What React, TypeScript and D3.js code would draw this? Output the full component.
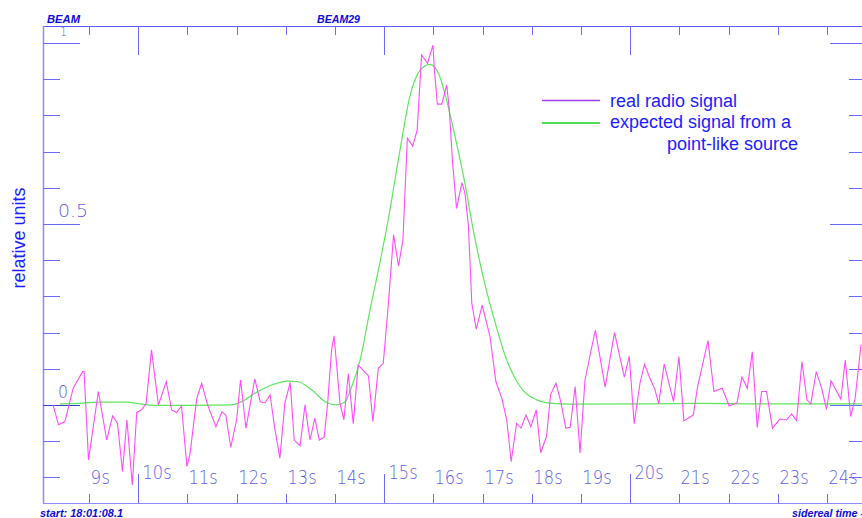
import React, { useEffect, useRef } from 'react';
import * as d3 from 'd3';

// measured radio signal: [seconds after 18:01, relative units]
const radioSignal: [number, number][] = [
  [8.27, 0.0], [8.38, -0.055], [8.51, -0.046], [8.68, 0.047], [8.87, 0.092], [8.9, 0.092],
  [8.99, -0.152], [9.19, 0.037], [9.36, -0.097], [9.48, -0.03], [9.58, -0.051], [9.68, -0.184],
  [9.77, -0.041], [9.88, -0.221], [9.97, -0.021], [10.06, -0.014], [10.16, 0.003], [10.27, 0.152],
  [10.41, 0.0], [10.57, 0.064], [10.68, -0.014], [10.78, -0.021], [10.88, -0.003], [10.99, -0.17],
  [11.05, -0.138], [11.19, 0.018], [11.29, 0.06], [11.41, 0.0], [11.58, -0.06], [11.7, -0.019],
  [11.78, -0.028], [11.88, -0.117], [12.0, -0.041], [12.08, 0.069], [12.19, -0.064], [12.37, 0.072],
  [12.48, 0.009], [12.58, 0.006], [12.68, 0.028], [12.77, -0.06], [12.88, -0.147], [12.98, 0.005],
  [13.09, 0.062], [13.17, -0.097], [13.29, -0.113], [13.39, 0.0], [13.49, -0.097], [13.59, -0.037],
  [13.68, -0.097], [13.78, -0.089], [13.85, 0.005], [13.93, 0.152], [13.98, 0.191], [14.03, 0.115],
  [14.1, 0.005], [14.18, -0.041], [14.27, 0.086], [14.37, -0.052], [14.47, 0.11], [14.68, 0.08],
  [14.77, -0.046], [14.88, 0.101], [14.98, 0.115], [15.08, 0.272], [15.19, 0.47], [15.29, 0.384],
  [15.38, 0.456], [15.47, 0.737], [15.58, 0.715], [15.67, 0.76], [15.76, 0.967], [15.88, 0.944],
  [15.99, 0.994], [16.02, 0.925], [16.08, 0.831], [16.17, 0.831], [16.27, 0.884], [16.32, 0.82],
  [16.39, 0.668], [16.47, 0.543], [16.58, 0.614], [16.64, 0.585], [16.71, 0.497], [16.78, 0.281],
  [16.87, 0.209], [16.99, 0.276], [17.15, 0.189], [17.27, 0.064], [17.39, 0.018], [17.49, -0.041],
  [17.58, -0.157], [17.69, -0.051], [17.78, -0.064], [17.88, -0.028], [17.98, -0.06], [18.09, -0.014],
  [18.18, -0.132], [18.3, -0.086], [18.38, 0.028], [18.49, 0.06], [18.59, 0.008], [18.69, -0.064],
  [18.78, -0.062], [18.88, 0.051], [18.98, -0.133], [19.08, 0.069], [19.29, 0.207], [19.49, 0.049],
  [19.68, 0.2], [19.88, 0.077], [19.98, 0.135], [20.08, -0.052], [20.2, 0.062], [20.29, 0.112],
  [20.39, 0.077], [20.5, 0.043], [20.58, 0.003], [20.69, 0.113], [20.88, 0.009], [20.99, 0.133],
  [21.09, -0.044], [21.28, -0.028], [21.37, 0.051], [21.58, 0.178], [21.7, 0.037], [21.87, 0.046],
  [22.01, -0.003], [22.17, 0.006], [22.27, 0.077], [22.38, 0.046], [22.48, 0.147], [22.58, -0.062],
  [22.67, 0.037], [22.77, 0.037], [22.89, -0.064], [23.04, -0.039], [23.18, -0.041], [23.28, -0.025],
  [23.38, -0.043], [23.49, 0.12], [23.59, 0.014], [23.67, 0.003], [23.78, 0.092], [23.89, 0.046],
  [23.99, -0.012], [24.08, 0.067], [24.18, 0.041], [24.28, 0.016], [24.37, 0.124], [24.48, -0.032],
  [24.57, 0.018], [24.69, 0.166],
];

// expected beam response of a point source
const expectedSignal: [number, number][] = [
  [8.41, 0.003], [8.88, 0.005], [9.16, 0.008], [9.77, 0.008], [10.04, 0.003], [10.31, -0.001],
  [11.05, -0.001], [11.9, 0.0], [12.1, 0.009], [12.37, 0.032], [12.71, 0.055], [13.05, 0.066],
  [13.25, 0.064], [13.53, 0.041], [13.8, 0.009], [14.04, 0.0], [14.2, 0.008], [14.34, 0.051],
  [14.51, 0.124], [14.71, 0.262], [14.91, 0.392], [15.08, 0.511], [15.32, 0.704], [15.52, 0.852],
  [15.73, 0.925], [15.93, 0.941], [16.13, 0.907], [16.3, 0.824], [16.47, 0.723], [16.64, 0.612],
  [16.81, 0.483], [17.01, 0.354], [17.22, 0.244], [17.49, 0.124], [17.76, 0.051], [18.1, 0.014],
  [18.37, 0.005], [18.78, 0.002], [20.4, 0.003], [21.42, 0.004], [22.44, 0.003], [24.71, 0.003],
];

const xTickSeconds = [9, 10, 11, 12, 13, 14, 15, 16, 17, 18, 19, 20, 21, 22, 23, 24];
const xMajorSeconds = [10, 15, 20];
const yTickValues = [-0.2, -0.1, 0, 0.1, 0.2, 0.3, 0.4, 0.5, 0.6, 0.7, 0.8, 0.9, 1];
const yMajorValues = [0, 0.5, 1];
const yTickLabels = ['0', '0.5', '1'];
const legendLabels = ['real radio signal', 'expected signal from a', 'point-like source'];

const W = 862;
const H = 518;

const App: React.FC = () => {
  const svgRef = useRef<SVGSVGElement>(null);

  useEffect(() => {
    if (!svgRef.current) return;
    const svg = d3.select(svgRef.current);
    svg.selectAll('*').remove();

    const left = 43, right = 862, top = 26, bottom = 503;

    const x = d3.scaleLinear().domain([8.065, 24.71]).range([left, right]);
    const y = d3.scaleLinear().domain([-0.271, 1.047]).range([bottom, top]);

    const axisColor = '#6a6aff';
    const lightAxis = '#8c8cff';
    const labelColor = '#5e5ee6';
    const darkBlue = '#0c0cd8';

    svg.append('rect').attr('width', W).attr('height', H).attr('fill', '#fff');

    svg.append('clipPath').attr('id', 'plot-clip')
      .append('rect')
      .attr('x', left).attr('y', top)
      .attr('width', right - left).attr('height', bottom - top);

    // frame
    svg.append('line').attr('x1', left).attr('x2', right).attr('y1', top + 0.5).attr('y2', top + 0.5)
      .attr('stroke', '#5a5aff').attr('stroke-width', 1.2);
    svg.append('line').attr('x1', left).attr('x2', right).attr('y1', bottom + 0.5).attr('y2', bottom + 0.5)
      .attr('stroke', lightAxis).attr('stroke-width', 1.2);
    svg.append('line').attr('x1', left + 0.5).attr('x2', left + 0.5).attr('y1', top).attr('y2', bottom)
      .attr('stroke', lightAxis).attr('stroke-width', 1.5);

    // x ticks, top and bottom
    const xt = svg.append('g');
    xTickSeconds.forEach(s => {
      const major = xMajorSeconds.includes(s);
      const px = Math.round(x(s)) + 0.5;
      const len = major ? 29 : 9;
      xt.append('line').attr('x1', px).attr('x2', px).attr('y1', top).attr('y2', top + len)
        .attr('stroke', axisColor);
      xt.append('line').attr('x1', px).attr('x2', px).attr('y1', bottom).attr('y2', bottom - len)
        .attr('stroke', axisColor);
      const label = `${s}s`;
      xt.append('text')
        .attr('x', px + (major ? 4 : 1))
        .attr('y', major ? 479 : 484)
        .attr('textLength', label.length * 9.7)
        .attr('lengthAdjust', 'spacingAndGlyphs')
        .style('font-family', '"DejaVu Sans", sans-serif')
        .style('font-weight', 200)
        .style('font-size', '20px')
        .attr('fill', labelColor)
        .text(label);
    });

    // y ticks, left and right
    const yt = svg.append('g');
    yTickValues.forEach(v => {
      const major = yMajorValues.some(m => Math.abs(m - v) < 1e-6);
      const py = Math.round(y(v)) + 0.5;
      yt.append('line').attr('x1', left).attr('x2', left + (major ? 37 : 17)).attr('y1', py).attr('y2', py)
        .attr('stroke', Math.abs(v) < 1e-6 ? '#3a3ad0' : axisColor);
      yt.append('line').attr('x1', right).attr('x2', right - (major ? 32 : 13)).attr('y1', py).attr('y2', py)
        .attr('stroke', axisColor);
    });
    const yLabels = svg.append('g').attr('clip-path', 'url(#plot-clip)');
    yMajorValues.forEach((v, i) => {
      const label = yTickLabels[i];
      // the top label sits right under the frame, so it is drawn smaller
      const atTop = v === 1;
      yLabels.append('text')
        .attr('x', atTop ? 60 : 58)
        .attr('y', y(v) - 7)
        .attr('textLength', label.length * (atTop ? 7 : 10))
        .attr('lengthAdjust', 'spacingAndGlyphs')
        .style('font-family', '"DejaVu Sans", sans-serif')
        .style('font-weight', 200)
        .style('font-size', atTop ? '13px' : '18px')
        .attr('fill', labelColor)
        .text(label);
    });

    // data lines
    const plot = svg.append('g').attr('clip-path', 'url(#plot-clip)');

    const expectedLine = d3.line<[number, number]>()
      .x(d => x(d[0]))
      .y(d => y(d[1]))
      .curve(d3.curveMonotoneX);

    const radioLine = d3.line<[number, number]>()
      .x(d => x(d[0]))
      .y(d => y(d[1]));

    plot.append('path')
      .datum(expectedSignal)
      .attr('d', expectedLine)
      .attr('fill', 'none')
      .attr('stroke', '#5ee65e')
      .attr('stroke-width', 1.2);

    plot.append('path')
      .datum(radioSignal)
      .attr('d', radioLine)
      .attr('fill', 'none')
      .attr('stroke', '#ff4cff')
      .attr('stroke-width', 1.1)
      .attr('stroke-linejoin', 'miter');

    // legend
    const legend = svg.append('g');
    legend.append('line').attr('x1', 542).attr('x2', 600).attr('y1', 100.5).attr('y2', 100.5)
      .attr('stroke', '#a040ff').attr('stroke-width', 1.3);
    legend.append('line').attr('x1', 542).attr('x2', 600).attr('y1', 123).attr('y2', 123)
      .attr('stroke', '#55dd55').attr('stroke-width', 2);
    const legendPos = [[610, 107], [610, 128], [667, 150]];
    legendLabels.forEach((t, i) => {
      legend.append('text')
        .attr('x', legendPos[i][0])
        .attr('y', legendPos[i][1])
        .style('font-family', '"Liberation Sans", Arial, sans-serif')
        .style('font-size', '18px')
        .attr('fill', '#1c1cff')
        .text(t);
    });

    // y axis title
    svg.append('text')
      .attr('transform', `translate(25, 238) rotate(-90)`)
      .attr('text-anchor', 'middle')
      .style('font-family', '"Liberation Sans", Arial, sans-serif')
      .style('font-size', '18px')
      .attr('fill', '#1c1cff')
      .text('relative units');

    // header / footer notes
    const note = (tx: string, nx: number, ny: number, len?: number) => {
      const t = svg.append('text')
        .attr('x', nx)
        .attr('y', ny)
        .style('font-family', '"Liberation Sans", Arial, sans-serif')
        .style('font-size', '11px')
        .style('font-weight', 'bold')
        .style('font-style', 'italic')
        .attr('fill', darkBlue)
        .text(tx);
      if (len) t.attr('textLength', len).attr('lengthAdjust', 'spacingAndGlyphs');
    };
    note('BEAM', 47, 23, 33);
    note('BEAM29', 317, 23, 43);
    note('start: 18:01:08.1', 40, 517, 83);
    note('sidereal time -', 792, 517, 72);
  }, []);

  return (
    <svg
      ref={svgRef}
      width={W}
      height={H}
      style={{ position: 'fixed', left: 0, top: 0, background: '#fff' }}
    />
  );
};

export default App;
